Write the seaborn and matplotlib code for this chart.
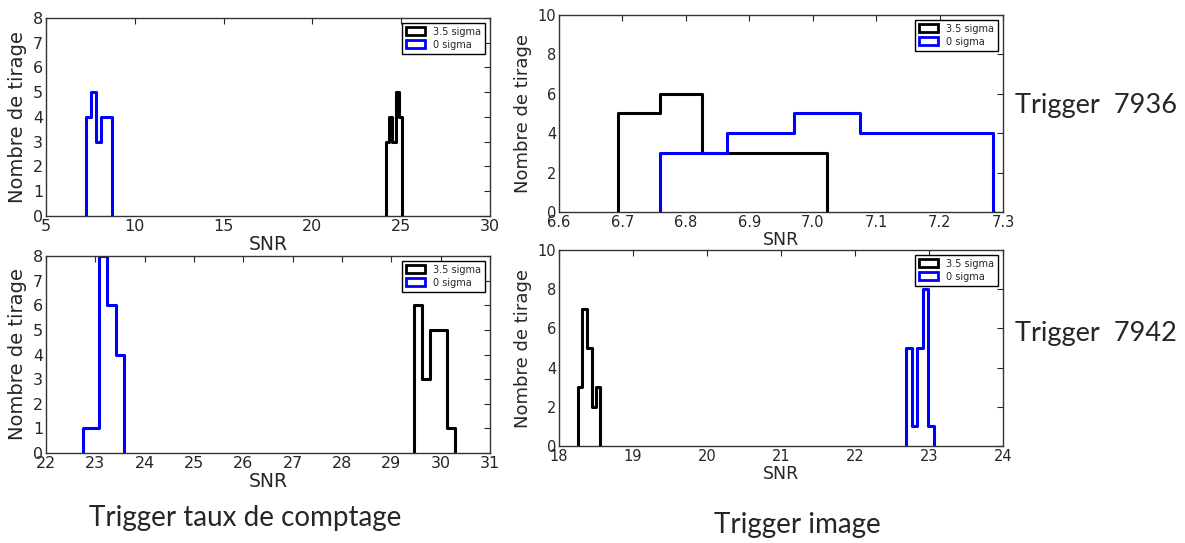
import numpy as np
import pandas as pd
import seaborn as sns
import matplotlib.pyplot as plt
from matplotlib.patches import Patch

# Bin edges and counts (20 draws per series)
# Trigger taux de comptage, 7936
tl_black_edges = [24.14, 24.33, 24.51, 24.70, 24.89, 25.07]
tl_black_counts = [3, 4, 3, 5, 4]
tl_blue_edges = [7.25, 7.54, 7.83, 8.12, 8.41, 8.70]
tl_blue_counts = [4, 5, 3, 4, 4]

# Trigger image, 7936
tr_black_edges = [6.693, 6.759, 6.825, 6.891, 6.957, 7.022]
tr_black_counts = [5, 6, 3, 3, 3]
tr_blue_edges = [6.760, 6.865, 6.970, 7.075, 7.180, 7.285]
tr_blue_counts = [3, 4, 5, 4, 4]

# Trigger taux de comptage, 7942
bl_black_edges = [29.45, 29.62, 29.79, 29.96, 30.12, 30.29]
bl_black_counts = [6, 3, 5, 5, 1]
bl_blue_edges = [22.75, 22.915, 23.08, 23.245, 23.41, 23.575]
bl_blue_counts = [1, 1, 8, 6, 4]

# Trigger image, 7942
br_black_edges = [18.257, 18.318, 18.379, 18.44, 18.50, 18.56]
br_black_counts = [3, 7, 5, 2, 3]
br_blue_edges = [22.69, 22.765, 22.84, 22.915, 22.99, 23.065]
br_blue_counts = [5, 1, 5, 8, 1]

labels = ["3.5 sigma", "0 sigma"]
colors = ["black", "blue"]

sns.set_style("white")
plt.rcParams["font.family"] = ["DejaVu Sans"]

fig = plt.figure(figsize=(11.85, 5.43), dpi=100)
fig.patch.set_facecolor("white")

ax_tl = fig.add_axes([0.0388, 0.6022, 0.3747, 0.3647])
ax_tr = fig.add_axes([0.4717, 0.6096, 0.3747, 0.3628])
ax_bl = fig.add_axes([0.0388, 0.1657, 0.3747, 0.3628])
ax_br = fig.add_axes([0.4717, 0.1786, 0.3747, 0.3610])


def draw_hist(ax, edges, counts, color):
    edges = np.asarray(edges, dtype=float)
    centers = (edges[:-1] + edges[1:]) / 2
    df = pd.DataFrame({"snr": np.repeat(centers, counts)})
    # tiny empty bins at both ends so the step outline drops to 0
    eps = (edges[-1] - edges[0]) * 1e-4
    bins = np.r_[edges[0] - eps, edges, edges[-1] + eps]
    sns.histplot(data=df, x="snr", bins=bins, element="step",
                 fill=False, color=color, linewidth=2.2, ax=ax)


panels = [
    (ax_tl, tl_black_edges, tl_black_counts, tl_blue_edges, tl_blue_counts,
     (5, 30), np.arange(5, 31, 5), (0, 8), np.arange(0, 9, 1), 11.5),
    (ax_tr, tr_black_edges, tr_black_counts, tr_blue_edges, tr_blue_counts,
     (6.6, 7.3), np.arange(6.6, 7.31, 0.1), (0, 10), np.arange(0, 11, 2), 10.5),
    (ax_bl, bl_black_edges, bl_black_counts, bl_blue_edges, bl_blue_counts,
     (22, 31), np.arange(22, 32, 1), (0, 8), np.arange(0, 9, 1), 11.5),
    (ax_br, br_black_edges, br_black_counts, br_blue_edges, br_blue_counts,
     (18, 24), np.arange(18, 25, 1), (0, 10), np.arange(0, 11, 2), 10.5),
]

for ax, k_e, k_c, b_e, b_c, xlim, xt, ylim, yt, fs in panels:
    draw_hist(ax, k_e, k_c, colors[0])
    draw_hist(ax, b_e, b_c, colors[1])
    ax.set_xlim(*xlim)
    ax.set_ylim(*ylim)
    ax.set_xticks(xt)
    ax.set_yticks(yt)
    if xlim[0] == 6.6:
        ax.set_xticklabels([f"{t:.1f}" for t in xt])
    ax.tick_params(direction="in", top=True, right=True, length=4,
                   labelsize=fs, pad=2)
    for s in ax.spines.values():
        s.set_color("#333333")
        s.set_linewidth(1.0)
    ax.set_xlabel("SNR", fontsize=fs + 2, labelpad=1)
    ax.set_ylabel("Nombre de tirage", fontsize=fs + 2.5, labelpad=4)
    handles = [Patch(facecolor="white", edgecolor=c, linewidth=2, label=l)
               for c, l in zip(colors, labels)]
    ax.legend(handles=handles, loc="upper right", fontsize=7, frameon=True,
              fancybox=False, edgecolor="black", framealpha=1,
              handlelength=2.0, handleheight=0.9, borderpad=0.4,
              labelspacing=0.3)

note_font = ["Lato", "DejaVu Sans"]
fig.text(0.8565, 0.8066, "Trigger  7936", fontsize=19.5, family=note_font,
         va="center", ha="left")
fig.text(0.8565, 0.3867, "Trigger  7942", fontsize=19.5, family=note_font,
         va="center", ha="left")
fig.text(0.2068, 0.046, "Trigger taux de comptage", fontsize=20,
         family=note_font, va="center", ha="center")
fig.text(0.6726, 0.033, "Trigger image", fontsize=20, family=note_font,
         va="center", ha="center")

fig.savefig("out.png", dpi=100, facecolor="white")
